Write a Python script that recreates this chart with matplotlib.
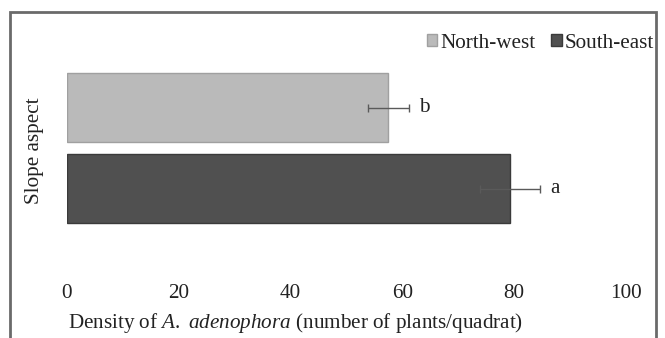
import matplotlib
matplotlib.use("Agg")
import matplotlib.pyplot as plt
from matplotlib.patches import Rectangle, Patch

# data
categories = ["South-east", "North-west"]
density = [79.3, 57.5]
errors = [5.4, 3.6]
letters = ["a", "b"]
colors = ["#505050", "#bababa"]
xticks = [0, 20, 40, 60, 80, 100]

plt.rcParams['font.family'] = ['Liberation Serif', 'DejaVu Serif']
plt.rcParams['mathtext.fontset'] = 'custom'
plt.rcParams['mathtext.rm'] = 'Liberation Serif'
plt.rcParams['mathtext.it'] = 'Liberation Serif:italic'

FS = 15.2
W, H = 665, 338
fig = plt.figure(figsize=(W / 100, H / 100), dpi=100)
fig.patch.set_facecolor("white")

left, right, top, bottom = 67, 626, 60, 270
ax = fig.add_axes([left / W, 1 - bottom / H, (right - left) / W, (bottom - top) / H])
ax.set_facecolor("none")

ypos = list(range(len(categories)))
ax.barh(ypos, density, height=0.84, color=colors,
        edgecolor=["#3a3a3a", "#a0a0a0"], linewidth=1.0, zorder=2)
ax.errorbar(density, ypos, xerr=errors, fmt="none", ecolor="#5a5a5a",
            elinewidth=1.0, capsize=3, capthick=1.0, zorder=3)
for y, v, e, l in zip(ypos, density, errors, letters):
    ax.text(v + e + 1.8, y, l, fontsize=FS, ha="left", va="center", color="#222222")

ax.set_xlim(0, 100)
ppu = 81.0
ax.set_ylim(-(bottom - 188.5) / ppu, 1 + (107.5 - top) / ppu)
ax.set_xticks(xticks)
ax.set_xticklabels([str(t) for t in xticks], fontsize=FS, color="#222222")
ax.tick_params(axis="x", length=0, pad=10)
ax.set_yticks([])
for s in ax.spines.values():
    s.set_visible(False)

fig.text(296 / W, 1 - 323 / H,
         r"Density of $\it{A.\ adenophora}$ (number of plants/quadrat)",
         fontsize=FS, ha="center", va="center", color="#222222")
fig.text(34 / W, 1 - 151 / H, "Slope aspect", fontsize=FS, rotation=90,
         ha="center", va="center", color="#222222")

handles = [Patch(facecolor=colors[1], edgecolor="#a0a0a0"),
           Patch(facecolor=colors[0], edgecolor="#3a3a3a")]
leg = fig.legend(handles, ["North-west", "South-east"], loc="center right",
                 bbox_to_anchor=(669 / W, 1 - 43 / H), ncol=2, frameon=False,
                 fontsize=FS, handlelength=0.5, handleheight=0.5,
                 handletextpad=0.15, columnspacing=0.75, borderpad=0.2)
for t in leg.get_texts():
    t.set_color("#222222")

fig.patches.append(Rectangle((10 / W, -0.05), (656 - 10) / W, (1 - 12 / H) + 0.05,
                             transform=fig.transFigure, fill=False,
                             edgecolor="#6a6a6a", linewidth=2.0))

fig.savefig("out.png", dpi=100)
